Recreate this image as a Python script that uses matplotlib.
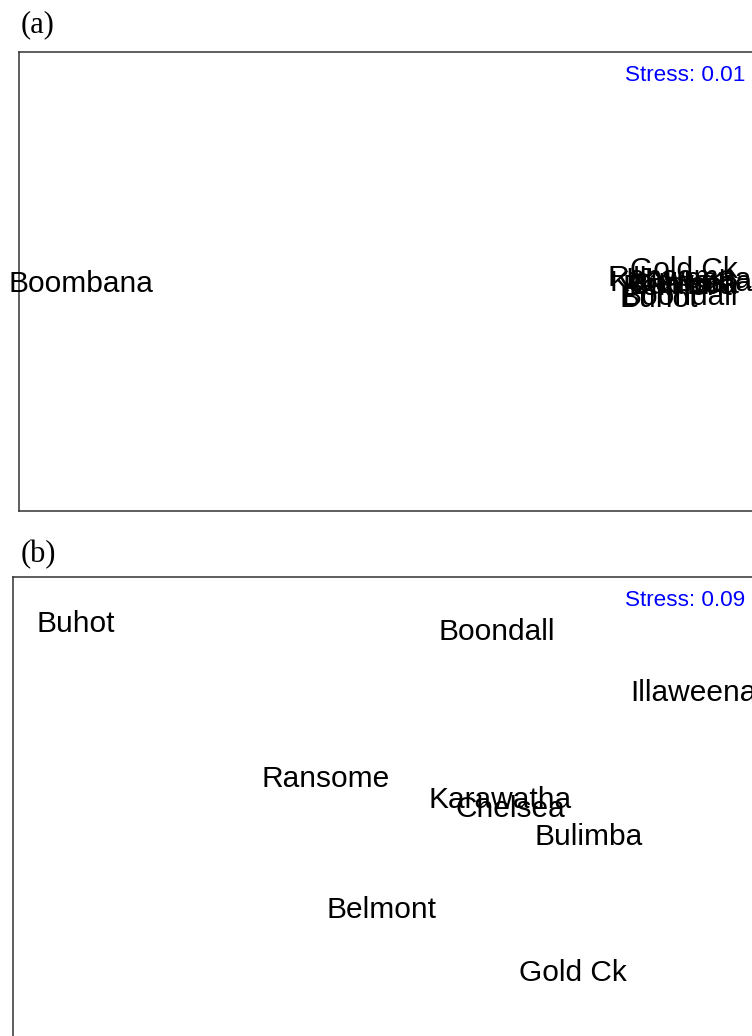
import matplotlib
matplotlib.use("Agg")
import matplotlib.pyplot as plt

# --- NMDS site scores, panel (a): all sites
sites_a = ["Boombana", "Gold Ck", "Ransome", "Illaweena", "Karawatha",
           "Chelsea", "Bulimba", "Belmont", "Boondall", "Buhot"]
mds1_a = [-1.329, 0.335, 0.302, 0.346, 0.327, 0.335, 0.332, 0.318, 0.324, 0.266]
mds2_a = [0.000, 0.038, 0.017, 0.012, 0.004, -0.001, -0.004, -0.006, -0.033, -0.038]
stress_a = 0.01

# --- panel (b): Boombana removed
sites_b = ["Buhot", "Boondall", "Illaweena", "Ransome", "Karawatha",
           "Chelsea", "Bulimba", "Belmont", "Gold Ck"]
mds1_b = [-1.019, 0.188, 0.753, -0.302, 0.197, 0.226, 0.452, -0.142, 0.406]
mds2_b = [0.465, 0.441, 0.254, -0.009, -0.073, -0.101, -0.186, -0.410, -0.602]
stress_b = 0.09

W, H = 752, 1036
fig = plt.figure(figsize=(W / 100, H / 100), dpi=100)

label_font = ["Liberation Sans", "DejaVu Sans"]
panel_font = ["Liberation Serif", "DejaVu Serif"]


def px_axes(left, top, right, bottom):
	# axes rectangle given in pixel edges of the figure (may go past the edge)
	return fig.add_axes([left / W, 1 - bottom / H, (right - left) / W, (bottom - top) / H])


def draw_panel(ax, names, xs, ys, stress, xlim, ylim):
	ax.set_xlim(*xlim)
	ax.set_ylim(*ylim)
	ax.set_xticks([])
	ax.set_yticks([])
	for side in ["top", "left", "right", "bottom"]:
		ax.spines[side].set_color("#333333")
		ax.spines[side].set_linewidth(1.1)
	for name, x, y in zip(names, xs, ys):
		ax.text(x, y, name, ha="center", va="center_baseline", fontsize=21.5,
				family=label_font, color="black", clip_on=False)
	pos = ax.get_position()
	ax.text((745 / W - pos.x0) / pos.width, 1 - 21 / (pos.height * H),
			"Stress: {:.2f}".format(stress), transform=ax.transAxes,
			ha="right", va="center_baseline", fontsize=16.2, family=label_font, color="#0000ff")


ax_a = px_axes(19, 52, 780, 511)
draw_panel(ax_a, sites_a, mds1_a, mds2_a, stress_a, (-1.5, 0.6), (-0.6, 0.6))
fig.text(21 / W, 1 - 32 / H, "(a)", family=panel_font, fontsize=22, va="baseline")

ax_b = px_axes(13, 577, 780, 1100)
draw_panel(ax_b, sites_b, mds1_b, mds2_b, stress_b, (-1.2, 1.0), (-1.0, 0.6))
fig.text(21 / W, 1 - 562 / H, "(b)", family=panel_font, fontsize=22, va="baseline")

fig.savefig("out.png", dpi=100)
